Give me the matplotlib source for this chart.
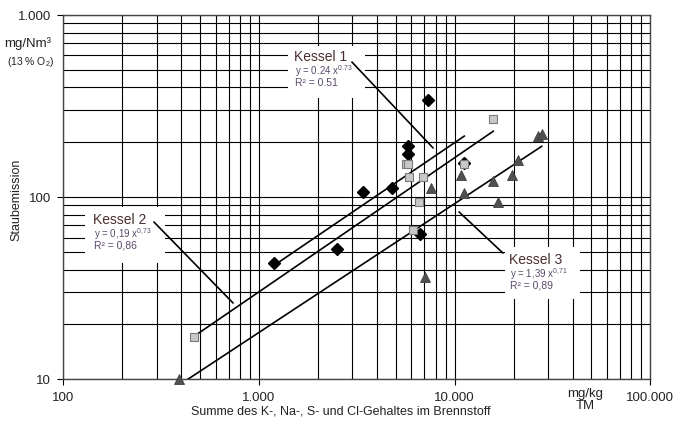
import numpy as np
import matplotlib.pyplot as plt
from matplotlib.patches import Rectangle

plt.rcParams['font.family'] = ['Liberation Sans', 'DejaVu Sans']
plt.rcParams['mathtext.fontset'] = 'custom'
plt.rcParams['mathtext.rm'] = 'Liberation Sans'
plt.rcParams['mathtext.it'] = 'Liberation Sans'

# Kessel 1: mg/kg TM vs. mg/Nm3
k1_x = [1197, 2495, 3413, 4798, 5755, 5755, 7328, 6647, 11190]
k1_y = [43.3, 51.7, 107, 111.8, 191.5, 172.5, 341, 62.7, 154]
# Kessel 2
k2_x = [467, 5636, 5800, 5862, 6864, 11190, 6594, 6138, 15740]
k2_y = [17.1, 151.5, 151.5, 128.5, 129, 152, 93.6, 66, 268]
# Kessel 3
k3_x = [392, 7047, 7570, 10770, 11190, 15630, 16590, 19540, 21130, 26730, 27830]
k3_y = [10.0, 36.6, 111.8, 133, 105, 122.6, 93.6, 133, 159.8, 217, 221]

x_ticks = [100, 1000, 10000, 100000]
x_labels = ['100', '1.000', '10.000', '100.000']
y_ticks = [10, 100, 1000]
y_labels = ['10', '100', '1.000']

W, H = 674, 430
L, R, T, B = 63.3, 650.4, 15.0, 379.3

fig = plt.figure(figsize=(W / 100, H / 100), dpi=100)
ax = fig.add_axes([L / W, 1 - B / H, (R - L) / W, (B - T) / H])
ax.set_xscale('log')
ax.set_yscale('log')
ax.set_xlim(100, 100000)
ax.set_ylim(10, 1000)
ax.set_axisbelow(True)
ax.grid(which='both', color='black', lw=0.8)
for s in ax.spines.values():
    s.set_color('#444444')
    s.set_linewidth(1.0)
ax.set_xticks(x_ticks)
ax.set_xticklabels(x_labels)
ax.set_yticks(y_ticks)
ax.set_yticklabels(y_labels)
ax.tick_params(which='major', length=4, width=0.8, labelsize=9.5,
               labelcolor='#222222', pad=5)
ax.tick_params(which='minor', length=0)
ax.xaxis.set_minor_formatter(plt.NullFormatter())
ax.yaxis.set_minor_formatter(plt.NullFormatter())


def frac(px, py):
    # pixel position -> axes fraction
    return ((px - L) / (R - L), (B - py) / (B - T))


# power trend lines (linear fit in log-log space)
for xs, ys in [(k1_x, k1_y), (k2_x, k2_y), (k3_x, k3_y)]:
    lx, ly = np.log10(xs), np.log10(ys)
    b, a = np.polyfit(lx, ly, 1)
    xx = np.array([min(lx), max(lx)])
    ax.plot(10 ** xx, 10 ** (a + b * xx), color='black', lw=1.2, zorder=2)

ax.plot(k1_x, k1_y, 'D', ms=6, color='black', zorder=3)
ax.plot(k2_x, k2_y, 's', ms=6, mfc='#c8c8c8', mec='#7a7a7a', mew=0.8, zorder=4)
ax.plot(k3_x, k3_y, '^', ms=7, mfc='#505050', mec='#404040', mew=0.6,
        zorder=5, clip_on=False)

# label boxes with leader lines
boxes = [
    ('Kessel 1', 'y = 0.24 x$^{0.73}$', 'R² = 0.51',
     (288, 46, 365, 98), (294, 57), (350, 60), (435, 150)),
    ('Kessel 2', 'y = 0,19 x$^{0{,}73}$', 'R² = 0,86',
     (85, 207, 165, 263), (93, 220), (152, 220), (235, 305)),
    ('Kessel 3', 'y = 1,39 x$^{0{,}71}$', 'R² = 0,89',
     (505, 247, 580, 299), (509, 260), (457, 210), (505, 255)),
]
for title, eq, r2, (x0, y0, x1, y1), (tx, ty), p0, p1 in boxes:
    fx0, fy1 = frac(x0, y1)
    fx1, fy0 = frac(x1, y0)
    ax.add_patch(Rectangle((fx0, fy1), fx1 - fx0, fy0 - fy1,
                           transform=ax.transAxes, facecolor='white',
                           edgecolor='none', zorder=1.5))
    ax.text(*frac(tx, ty), title, transform=ax.transAxes, fontsize=10,
            color='#4a2e2e', va='center', ha='left', zorder=6)
    ax.text(*frac(tx + 1, ty + 14), eq, transform=ax.transAxes, fontsize=7,
            color='#5a4a6a', va='center', ha='left', zorder=6)
    ax.text(*frac(tx + 1, ty + 26), r2, transform=ax.transAxes, fontsize=7.5,
            color='#5a4a6a', va='center', ha='left', zorder=6)
    ax.annotate('', xy=frac(*p1), xytext=frac(*p0), xycoords='axes fraction',
                textcoords='axes fraction',
                arrowprops=dict(arrowstyle='-', color='black', lw=1.2),
                zorder=6)

# units and axis titles
fig.text(28 / W, 1 - 44 / H, 'mg/Nm³', fontsize=9.5, color='#222222',
         ha='center', va='center')
fig.text(31 / W, 1 - 62 / H, '(13 % O$_2$)', fontsize=7.5, color='#222222',
         ha='center', va='center')
fig.text(585 / W, 1 - 400 / H, 'mg/kg\nTM', fontsize=9.5, color='#222222',
         ha='center', va='center', linespacing=1.0)
fig.text(341 / W, 1 - 411 / H,
         'Summe des K-, Na-, S- und Cl-Gehaltes im Brennstoff',
         fontsize=9, color='#222222', ha='center', va='center')
fig.text(16 / W, 1 - 200 / H, 'Staubemission', fontsize=9, color='#222222',
         ha='center', va='center', rotation=90)

fig.savefig('out.png', dpi=100)
